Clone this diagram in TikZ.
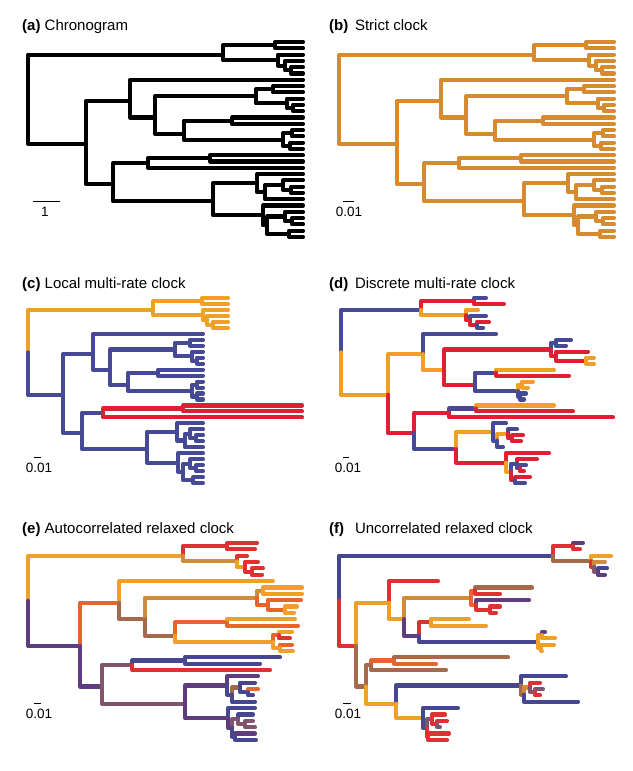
\documentclass[tikz,border=0pt]{standalone}
\usepackage{fontspec}
\setmainfont{Liberation Sans}
\definecolor{strictc}{RGB}{213,139,46}
\definecolor{cO}{RGB}{240,160,40}
\definecolor{cU}{RGB}{70,74,150}
\definecolor{cR}{RGB}{222,32,52}
\definecolor{OR}{RGB}{238,160,40}
\definecolor{OX}{RGB}{232,100,45}
\definecolor{RD}{RGB}{222,50,50}
\definecolor{OC}{RGB}{210,140,55}
\definecolor{BR}{RGB}{165,105,75}
\definecolor{MV}{RGB}{130,85,110}
\definecolor{PU}{RGB}{95,60,125}
\definecolor{BL}{RGB}{70,70,145}
% vertical positions (in tip units) of every node
\foreach \i in {1,...,32}{\pgfmathtruncatemacro\v{\i-1}\expandafter\xdef\csname ut\i\endcsname{\v}}
\foreach \n/\v in {R/9.1,A/2.0,A1/0.5,A2/2.875,A2b/3.75,A2c/4.5,
 B/16.2,B1/9.4,B1b/12,Bi/8.625,Bi1/7.5,Bi2/9.75,Bi3/10.5,
 Bii/14.6,C1/12.5,C2/15.6,C2a/14.5,C2b/16.5,
 B2/22.6,B2a/19.25,D1/18.5,B2b/25.3,
 E1/22.4375,E1b/23.875,E1c/22.75,E1d/23.5,
 E2/27.5625,E2b/29.125,E2c/27.75,E2e/28.5,E2d/30.5}
 {\expandafter\xdef\csname u\n\endcsname{\v}}
% parent of every node
\foreach \c/\p in {A/R,B/R,A1/A,A2/A,t1/A1,t2/A1,t3/A2,A2b/A2,t4/A2b,A2c/A2b,t5/A2c,t6/A2c,
 B1/B,B2/B,t7/B1,B1b/B1,Bi/B1b,Bii/B1b,Bi1/Bi,Bi2/Bi,t8/Bi1,t9/Bi1,t10/Bi2,Bi3/Bi2,t11/Bi3,t12/Bi3,
 C1/Bii,C2/Bii,t13/C1,t14/C1,C2a/C2,C2b/C2,t15/C2a,t16/C2a,t17/C2b,t18/C2b,
 B2a/B2,B2b/B2,D1/B2a,t21/B2a,t19/D1,t20/D1,
 E1/B2b,E2/B2b,t22/E1,E1b/E1,E1c/E1b,t26/E1b,t23/E1c,E1d/E1c,t24/E1d,t25/E1d,
 t27/E2,E2b/E2,E2c/E2b,E2d/E2b,t28/E2c,E2e/E2c,t29/E2e,t30/E2e,t31/E2d,t32/E2d}
 {\expandafter\xdef\csname par\c\endcsname{\p}}
\newcommand\phylo[4]{% prefix, y0, spacing, list name/x/colour
  \foreach \n/\x/\col in #4 {\edef\uu{\csname u\n\endcsname}\coordinate (#1-\n) at (\x,{#2+\uu*#3});}
  \foreach \n/\x/\col in #4 {\ifcsname par\n\endcsname\edef\pp{\csname par\n\endcsname}\draw[branch,color=\col] (#1-\pp) |- (#1-\n);\fi}}
\def\listA{R/28/TC,A/223/TC,A1/275/TC,A2/278/TC,A2b/285/TC,A2c/291/TC,t1/303/TC,t2/303/TC,t3/303/TC,t4/303/TC,t5/303/TC,t6/303/TC,
 B/86/TC,B1/130/TC,t7/303/TC,B1b/155/TC,Bi/256/TC,Bi1/273/TC,Bi2/287/TC,Bi3/293/TC,t8/303/TC,t9/303/TC,t10/303/TC,t11/303/TC,t12/303/TC,
 Bii/184/TC,C1/232/TC,C2/283/TC,C2a/292/TC,C2b/290/TC,t13/303/TC,t14/303/TC,t15/303/TC,t16/303/TC,t17/303/TC,t18/303/TC,
 B2/113/TC,B2a/148/TC,D1/210/TC,t19/303/TC,t20/303/TC,t21/303/TC,
 B2b/213/TC,E1/257/TC,E1b/265/TC,E1c/283/TC,E1d/291/TC,t22/303/TC,t23/303/TC,t24/303/TC,t25/303/TC,t26/303/TC,
 E2/263/TC,E2b/267/TC,E2c/285/TC,E2e/292/TC,E2d/289/TC,t27/303/TC,t28/303/TC,t29/303/TC,t30/303/TC,t31/303/TC,t32/303/TC}
\def\listC{R/28/cU,A/153/cO,A1/202/cO,A2/203/cO,A2b/207/cO,A2c/213/cO,t1/228/cO,t2/228/cO,t3/228/cO,t4/228/cO,t5/228/cO,t6/228/cO,
 B/63/cU,B1/93/cU,t7/203/cU,B1b/110/cU,Bi/175/cU,Bi1/190/cU,Bi2/192/cU,Bi3/197/cU,t8/203/cU,t9/203/cU,t10/203/cU,t11/203/cU,t12/203/cU,
 Bii/128/cU,C1/158/cU,C2/192/cU,C2a/197/cU,C2b/197/cU,t13/203/cU,t14/203/cU,t15/203/cU,t16/203/cU,t17/203/cU,t18/203/cU,
 B2/82/cU,B2a/103/cU,D1/183/cR,t19/302/cR,t20/302/cR,t21/302/cR,
 B2b/147/cU,E1/177/cU,E1b/185/cU,E1c/190/cU,E1d/196/cU,t22/203/cU,t23/203/cU,t24/203/cU,t25/203/cU,t26/203/cU,
 E2/178/cU,E2b/183/cU,E2c/190/cU,E2e/196/cU,E2d/193/cU,t27/203/cU,t28/203/cU,t29/203/cU,t30/203/cU,t31/203/cU,t32/203/cU}
\def\listD{R/341/cU,A/421/cU,A1/474/cR,t1/486/cU,t2/504/cR,A2/466/cO,t3/478/cO,A2b/470/cR,t4/486/cU,A2c/477/cR,t5/489/cR,t6/483/cU,
 B/388/cO,B1/423/cO,t7/496/cU,B1b/444/cO,Bi/551/cR,Bi1/556/cU,t8/571/cU,t9/566/cU,Bi2/556/cR,t10/588/cR,Bi3/586/cR,t11/594/cO,t12/594/cO,
 Bii/475/cR,C1/496/cU,t13/554/cO,t14/569/cR,C2/518/cU,C2a/522/cO,t15/533/cO,t16/528/cO,C2b/520/cU,t17/526/cU,t18/524/cU,
 B2/414/cR,B2a/449/cR,D1/476/cU,t19/554/cO,t20/573/cR,t21/613/cR,
 B2b/456/cU,E1/493/cO,t22/506/cU,E1b/497/cU,E1c/508/cO,t23/517/cU,E1d/512/cR,t24/523/cR,t25/521/cR,t26/503/cU,
 E2/506/cR,t27/549/cR,E2b/511/cO,E2c/517/cU,t28/537/cR,E2e/520/cU,t29/526/cU,t30/524/cR,E2d/515/cR,t31/530/cR,t32/525/cU}
\def\listE{R/28/PU,A/183/OR,A1/227/RD,t1/257/RD,t2/255/RD,A2/237/OC,t3/247/RD,A2b/245/OR,t4/258/RD,A2c/252/RD,t5/263/RD,t6/262/RD,
 B/80/PU,B1/119/OX,t7/273/OR,B1b/145/BR,Bi/257/OC,Bi1/263/OC,t8/302/OR,t9/302/OR,Bi2/268/OX,t10/301/OX,Bi3/285/OX,t11/297/OR,t12/294/OR,
 Bii/175/BR,C1/227/OX,t13/295/OR,t14/298/OX,C2/273/OR,C2a/279/OX,t15/292/OR,t16/290/RD,C2b/280/OR,t17/292/OX,t18/293/OR,
 B2/102/PU,B2a/132/MV,D1/185/BL,t19/280/BL,t20/260/BL,t21/270/RD,
 B2b/185/MV,E1/227/PU,t22/258/PU,E1b/232/BL,E1c/240/BR,t23/255/BL,E1d/248/BL,t24/258/OX,t25/253/BL,t26/255/BL,
 E2/228/PU,t27/255/BL,E2b/232/PU,E2c/238/MV,t28/253/BL,E2e/245/MV,t29/253/MV,t30/255/MV,E2d/235/BL,t31/255/PU,t32/256/BL}
\def\listF{R/339/BL,A/553/BL,A1/573/RD,t1/583/PU,t2/580/RD,A2/591/BR,t3/611/OR,A2b/594/RD,t4/605/OC,A2c/598/MV,t5/607/BL,t6/605/PU,
 B/356/RD,B1/389/OR,t7/438/RD,B1b/404/OR,Bi/471/OC,Bi1/475/OX,t8/532/BR,t9/500/RD,Bi2/476/OX,t10/529/PU,Bi3/490/RD,t11/500/RD,t12/496/RD,
 Bii/419/PU,C1/431/RD,t13/469/OR,t14/486/OR,C2/538/BL,C2a/542/OR,t15/545/PU,t16/555/OR,C2b/541/OR,t17/554/OR,t18/542/OR,
 B2/366/BR,B2a/371/BR,D1/394/OX,t19/508/BR,t20/436/OX,t21/446/BR,
 B2b/396/OR,E1/521/BL,t22/566/BL,E1b/524/BR,E1c/530/OC,t23/540/RD,E1d/535/MV,t24/543/MV,t25/540/RD,t26/578/BL,
 E2/423/OR,t27/458/BL,E2b/427/BL,E2c/432/MV,t28/445/RD,E2e/437/RD,t29/447/RD,t30/440/MV,E2d/428/RD,t31/449/RD,t32/447/RD}
\begin{document}
\begin{tikzpicture}[x=1pt,y=-1pt,
  branch/.style={line width=4.1pt,line cap=round,line join=round},
  title/.style={anchor=base west,inner sep=0pt,font=\fontsize{15}{17}\selectfont},
  scalebar/.style={line width=0.8pt},
  scalelab/.style={inner sep=0pt,font=\fontsize{13.5}{15}\selectfont}]
\useasboundingbox (0,0) rectangle (632,771);
% titles
\node[title] (ta) at (22,30) {\textbf{(a)} Chronogram};
\node[title] (tb) at (329,30) {\textbf{(b)}\, Strict clock};
\node[title] (tc) at (22,288) {\textbf{(c)} Local multi-rate clock};
\node[title] (td) at (329,288) {\textbf{(d)}\, Discrete multi-rate clock};
\node[title] (te) at (22,533) {\textbf{(e)} Autocorrelated relaxed clock};
\node[title] (tf) at (329,533) {\textbf{(f)}\;\, Uncorrelated relaxed clock};
% trees
\begin{scope}\colorlet{TC}{black}\phylo{a}{42}{6.29}{\listA}\end{scope}
\begin{scope}[xshift=311pt]\colorlet{TC}{strictc}\phylo{b}{42}{6.29}{\listA}\end{scope}
\phylo{c}{298}{5.97}{\listC}
\phylo{d}{298}{5.97}{\listD}
\phylo{e}{543}{6.35}{\listE}
\phylo{f}{543}{6.35}{\listF}
% scale bars
\coordinate (sa1) at (33,201); \coordinate (sa2) at (60,201);
\draw[scalebar] (sa1) -- (sa2); \node[scalelab] (la) at (45,212) {1};
\coordinate (sb1) at (343,201); \coordinate (sb2) at (354,201);
\draw[scalebar] (sb1) -- (sb2); \node[scalelab] (lb) at (349,212) {0.01};
\coordinate (sc1) at (34,457); \coordinate (sc2) at (41,457);
\draw[scalebar] (sc1) -- (sc2); \node[scalelab] (lc) at (39,468) {0.01};
\coordinate (sd1) at (343,457); \coordinate (sd2) at (349,457);
\draw[scalebar] (sd1) -- (sd2); \node[scalelab] (ld) at (348,468) {0.01};
\coordinate (se1) at (34,703); \coordinate (se2) at (41,703);
\draw[scalebar] (se1) -- (se2); \node[scalelab] (le) at (39,714) {0.01};
\coordinate (sf1) at (343,703); \coordinate (sf2) at (351,703);
\draw[scalebar] (sf1) -- (sf2); \node[scalelab] (lf) at (348,714) {0.01};
\end{tikzpicture}
\end{document}
